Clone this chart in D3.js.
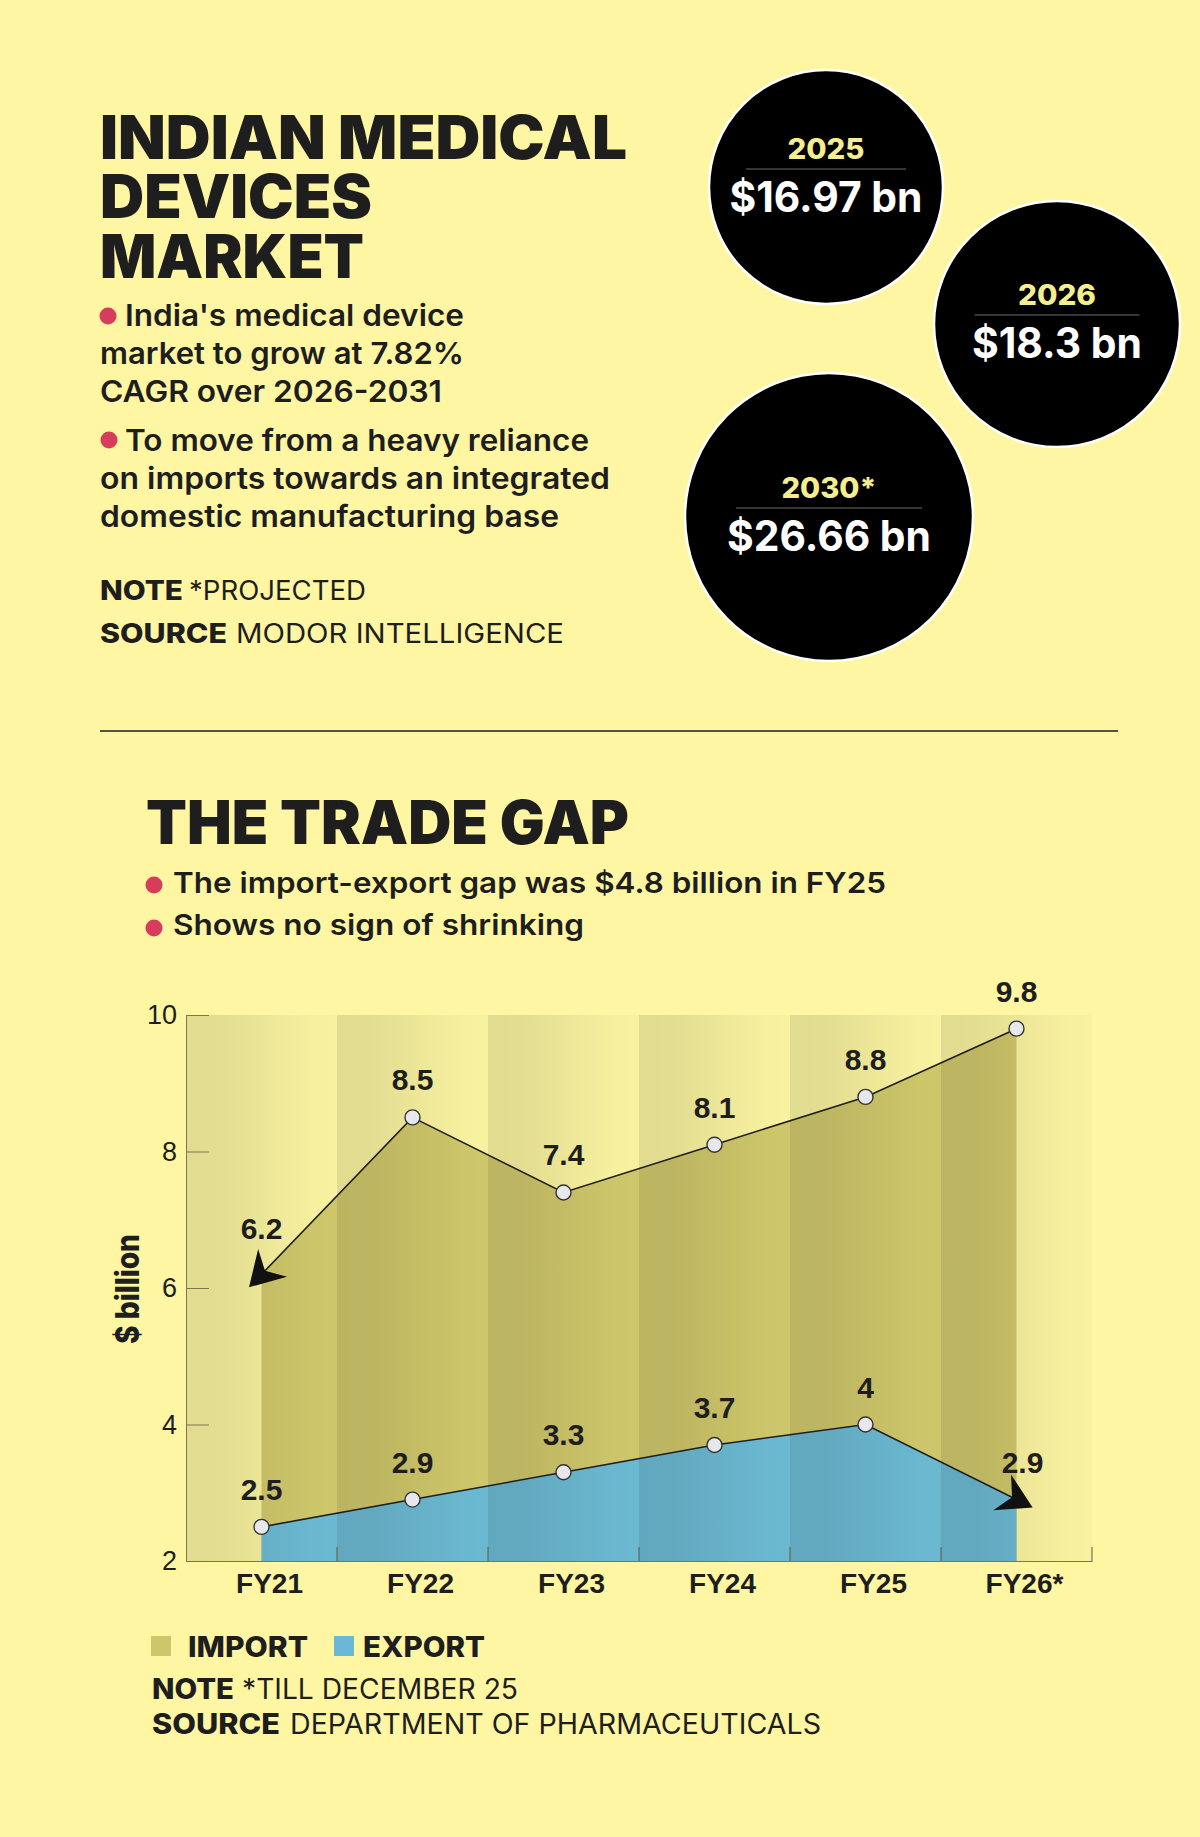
<!DOCTYPE html>
<html>
<head>
<meta charset="utf-8">
<title>Indian medical devices market</title>
<script src="https://cdn.jsdelivr.net/npm/d3@7"></script>
<style>
  body { margin: 0; background: #fff6a3; }
  svg { display: block; }
  .sans { font-family: Inter, "Noto Sans", sans-serif; fill: #1e1e1e; }
  .num { font-family: "Liberation Sans", Arial, sans-serif; fill: #1e1e1e; }
</style>
</head>
<body>
<div id="chart"></div>
<script>
// market size bubbles
const marketYears = ["2025", "2026", "2030*"];
const marketSize = [16.97, 18.3, 26.66];

// trade gap chart
const categories = ["FY21", "FY22", "FY23", "FY24", "FY25", "FY26*"];
const importValues = [6.2, 8.5, 7.4, 8.1, 8.8, 9.8];
const exportValues = [2.5, 2.9, 3.3, 3.7, 4, 2.9];
const yTicks = [2, 4, 6, 8, 10];

const ink = "#1e1e1e";
const red = "#d73c5c";

const svg = d3.select("#chart")
    .append("svg")
    .attr("width", 1200)
    .attr("height", 1837);

svg.append("rect")
    .attr("width", 1200)
    .attr("height", 1837)
    .attr("fill", "#fff6a3");

// text squeezed to the width it takes in the original
function txt(s, x, y, size, weight, len, cls) {
    const t = svg.append("text")
        .attr("class", cls || "sans")
        .attr("x", x)
        .attr("y", y)
        .attr("font-size", size)
        .attr("font-weight", weight)
        .text(s);
    if (len) t.attr("textLength", len).attr("lengthAdjust", "spacingAndGlyphs");
    return t;
}

function dot(x, y) {
    svg.append("circle").attr("cx", x).attr("cy", y).attr("r", 8.5).attr("fill", red);
}

// ---- top block ----
txt("INDIAN MEDICAL", 100, 158.5, 60, 900, 527);
txt("DEVICES", 100, 218, 60, 900, 272);
txt("MARKET", 100, 278, 60, 900, 264);

dot(108, 316);
txt("India's medical device", 125, 326, 30, 600, 339);
txt("market to grow at 7.82%", 100, 364, 30, 600, 364);
txt("CAGR over 2026-2031", 100, 402, 30, 600, 342);
dot(109, 440);
txt("To move from a heavy reliance", 125, 451, 30, 600, 464);
txt("on imports towards an integrated", 100, 489, 30, 600, 510);
txt("domestic manufacturing base", 100, 527, 30, 600, 459);

txt("NOTE", 100, 600, 27, 800, 83);
txt("*PROJECTED", 189, 600, 27, 400, 177);
txt("SOURCE", 100, 643, 27, 800, 127);
txt("MODOR INTELLIGENCE", 236, 643, 27, 400, 328);

// bubbles
const bubbles = [
    { cx: 826, cy: 187, r: 117, ty: -9, lw: 160, yw: 77, vw: 193 },
    { cx: 1057, cy: 324, r: 123, ty: 0, lw: 165, yw: 78, vw: 170 },
    { cx: 829, cy: 517, r: 144, ty: 0, lw: 186, yw: 95, vw: 204 }
];

const bub = svg.selectAll("g.bubble")
    .data(marketYears)
    .join("g")
    .attr("class", "bubble")
    .attr("transform", (d, i) => `translate(${bubbles[i].cx},${bubbles[i].cy + bubbles[i].ty})`);

bub.append("circle")
    .attr("cy", (d, i) => -bubbles[i].ty)
    .attr("r", (d, i) => bubbles[i].r)
    .attr("fill", "#000")
    .attr("stroke", "#fff")
    .attr("stroke-width", 2.5);

bub.append("text")
    .attr("class", "sans")
    .attr("text-anchor", "middle")
    .attr("y", -19)
    .attr("font-size", 28)
    .attr("font-weight", 800)
    .style("fill", "#f4ee8e")
    .attr("textLength", (d, i) => bubbles[i].yw)
    .attr("lengthAdjust", "spacingAndGlyphs")
    .text(d => d);

bub.append("line")
    .attr("x1", (d, i) => -bubbles[i].lw / 2)
    .attr("x2", (d, i) => bubbles[i].lw / 2)
    .attr("y1", -9)
    .attr("y2", -9)
    .attr("stroke", "#6a6a6a")
    .attr("stroke-width", 1);

bub.append("text")
    .attr("class", "sans")
    .attr("text-anchor", "middle")
    .attr("y", 34)
    .attr("font-size", 42)
    .attr("font-weight", 700)
    .style("fill", "#fff")
    .attr("textLength", (d, i) => bubbles[i].vw)
    .attr("lengthAdjust", "spacingAndGlyphs")
    .text((d, i) => `$${marketSize[i]} bn`);

// divider
svg.append("line")
    .attr("x1", 100).attr("x2", 1118)
    .attr("y1", 731).attr("y2", 731)
    .attr("stroke", ink).attr("stroke-width", 1.5);

// ---- trade gap ----
txt("THE TRADE GAP", 146, 844, 60, 900, 483);
dot(154, 885);
txt("The import-export gap was $4.8 billion in FY25", 173, 893, 29, 600, 713);
dot(154, 928);
txt("Shows no sign of shrinking", 173, 935, 29, 600, 411);

const x = d3.scaleBand()
    .domain(categories)
    .range([186, 1092]);

const y = d3.scaleLinear()
    .domain([2, 10])
    .range([1561, 1015]);

const cx = c => x(c) + x.bandwidth() / 2;

const defs = svg.append("defs");
const grad = defs.append("linearGradient")
    .attr("id", "shade")
    .attr("x1", 0).attr("x2", 1).attr("y1", 0).attr("y2", 0);
[[0, 0.09], [0.22, 0.085], [0.85, 0.005], [1, 0]].forEach(s => {
    grad.append("stop")
        .attr("offset", s[0])
        .attr("stop-color", "#000")
        .attr("stop-opacity", s[1]);
});

defs.append("marker")
    .attr("id", "arrow")
    .attr("markerUnits", "userSpaceOnUse")
    .attr("markerWidth", 80)
    .attr("markerHeight", 80)
    .attr("refX", 0)
    .attr("refY", 0)
    .attr("viewBox", "-40 -40 80 80")
    .attr("orient", "auto-start-reverse")
    .append("path")
    .attr("d", "M18,0 L-16,-20 L-5,0 L-16,20 Z")
    .attr("fill", "#111");

// plot background
svg.append("rect")
    .attr("x", x.range()[0])
    .attr("y", y(10))
    .attr("width", x.range()[1] - x.range()[0])
    .attr("height", y(2) - y(10))
    .attr("fill", "#f8f19f");

const area = d3.area()
    .x((d, i) => cx(categories[i]))
    .y0(y(2))
    .y1(d => y(d));

svg.append("path")
    .datum(importValues)
    .attr("d", area)
    .attr("fill", "#cec66a");

svg.append("path")
    .datum(exportValues)
    .attr("d", area)
    .attr("fill", "#6bb8d1");

// column shading
svg.selectAll(".band")
    .data(categories)
    .enter().append("rect")
    .attr("class", "band")
    .attr("x", d => x(d))
    .attr("y", y(10))
    .attr("width", x.bandwidth())
    .attr("height", y(2) - y(10))
    .attr("fill", "url(#shade)");

// y axis
const yAxis = svg.append("g")
    .attr("transform", `translate(${x.range()[0]},0)`)
    .call(d3.axisLeft(y).tickValues(yTicks).tickSizeInner(-23).tickSizeOuter(0).tickPadding(9));
yAxis.select(".domain").attr("stroke", "#7a7650");
yAxis.selectAll(".tick line").attr("stroke", "#7a7650");
yAxis.selectAll(".tick text")
    .attr("class", "num")
    .attr("font-size", 27)
    .attr("font-weight", 400)
    .attr("fill", "#222");

// x axis
const xAxis = svg.append("g")
    .attr("transform", `translate(0,${y(2)})`)
    .call(d3.axisBottom(x).tickSize(0).tickPadding(12));
xAxis.select(".domain").attr("stroke", "#7a7650");
xAxis.selectAll(".tick text")
    .attr("class", "num")
    .attr("x", 8)
    .attr("font-size", 28)
    .attr("font-weight", 700)
    .attr("fill", ink);

svg.selectAll(".sep")
    .data(categories)
    .enter().append("line")
    .attr("class", "sep")
    .attr("x1", d => x(d) + x.bandwidth())
    .attr("x2", d => x(d) + x.bandwidth())
    .attr("y1", y(2))
    .attr("y2", y(2) - 14)
    .attr("stroke", "#5c5a40")
    .attr("stroke-width", 1);

svg.append("text")
    .attr("class", "sans")
    .attr("transform", `translate(139,${(y(2) + y(10)) / 2 + 1}) rotate(-90)`)
    .attr("text-anchor", "middle")
    .attr("font-size", 32)
    .attr("font-weight", 800)
    .attr("textLength", 110)
    .attr("lengthAdjust", "spacingAndGlyphs")
    .text("$ billion");

// lines with arrow heads
const line = d3.line()
    .x((d, i) => cx(categories[i]))
    .y(d => y(d));

svg.append("path")
    .datum(importValues)
    .attr("d", line)
    .attr("fill", "none")
    .attr("stroke", ink)
    .attr("stroke-width", 1.6)
    .attr("marker-start", "url(#arrow)");

svg.append("path")
    .datum(exportValues)
    .attr("d", line)
    .attr("fill", "none")
    .attr("stroke", ink)
    .attr("stroke-width", 1.6)
    .attr("marker-end", "url(#arrow)");

// circles everywhere except where the arrow head sits
function points(values, skip) {
    const pts = values
        .map((v, i) => ({ cat: categories[i], v: v, i: i }))
        .filter(d => d.i !== skip);
    svg.append("g")
        .selectAll("circle")
        .data(pts)
        .enter().append("circle")
        .attr("cx", d => cx(d.cat))
        .attr("cy", d => y(d.v))
        .attr("r", 7.5)
        .attr("fill", "#e6e8ec")
        .attr("stroke", "#333")
        .attr("stroke-width", 1.4);
}

function labels(values, arrowAt) {
    svg.append("g")
        .selectAll("text")
        .data(values)
        .enter().append("text")
        .attr("class", "num")
        .attr("text-anchor", "middle")
        .attr("x", (d, i) => cx(categories[i]) + (i === arrowAt && i > 0 ? 6 : 0))
        .attr("y", (d, i) => y(d) - (i === arrowAt && i === 0 ? 35 : 27))
        .attr("font-size", 30)
        .attr("font-weight", 700)
        .text(d => d);
}

points(importValues, 0);
points(exportValues, exportValues.length - 1);
labels(importValues, 0);
labels(exportValues, exportValues.length - 1);

// legend
svg.append("rect").attr("x", 151).attr("y", 1636).attr("width", 20).attr("height", 20).attr("fill", "#cfc56a");
txt("IMPORT", 188, 1657, 28, 800, 120);
svg.append("rect").attr("x", 334).attr("y", 1636).attr("width", 20).attr("height", 20).attr("fill", "#69b8d6");
txt("EXPORT", 363, 1657, 28, 800, 122);

txt("NOTE", 152, 1699, 28, 800, 82);
txt("*TILL DECEMBER 25", 242, 1699, 28, 400, 276);
txt("SOURCE", 152, 1734, 28, 800, 128);
txt("DEPARTMENT OF PHARMACEUTICALS", 290, 1734, 28, 400, 531);
</script>
</body>
</html>
